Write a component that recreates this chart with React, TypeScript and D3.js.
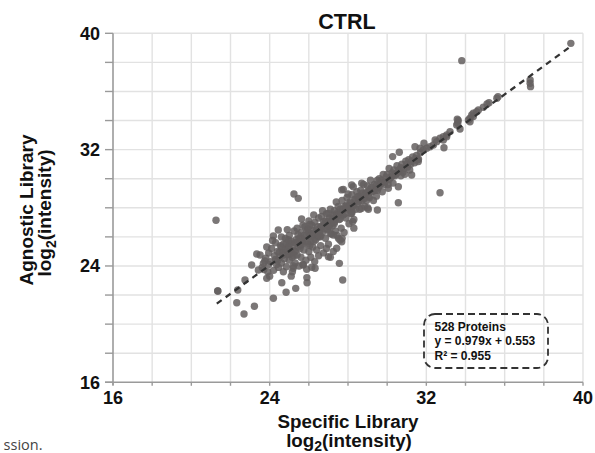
import React from "react";
import * as d3 from "d3";

// ---- data (log2 intensities) ----
const titleText = "CTRL";
const xTicks = [16, 24, 32, 40];
const yTicks = [16, 24, 32, 40];
const gridSteps = [18, 20, 22, 24, 26, 28, 30, 32, 34, 36, 38, 40];
const minorTicks = [16, 18, 20, 22, 24, 26, 28, 30, 32, 34, 36, 38, 40];
const fitSlope = 0.979;
const fitIntercept = 0.553;
const fitRange = [21.3, 39.34];
const legendLines = ["528 Proteins", "y = 0.979x + 0.553", "R\u00b2 = 0.955"];

const outlierPoints: [number, number][] = [
  [21.26, 27.14], [21.35, 22.28], [21.35, 22.28], [22.32, 21.47], [22.69, 20.7], [23.22, 21.23],
  [22.37, 22.35], [22.74, 23.04], [23.08, 24.07], [23.42, 23.72], [23.51, 24.75], [23.34, 24.82],
  [23.8, 24.53], [23.68, 24.18], [23.85, 23.15], [24.19, 21.78], [24.62, 22.85], [24.84, 22.19],
  [25.33, 22.46], [25.91, 22.85], [25.16, 23.6], [25.2, 23.84], [25.72, 24.07], [25.89, 23.77],
  [26.15, 23.91], [26.32, 23.84], [27.0, 24.64], [27.56, 24.18], [27.73, 23.04], [27.42, 25.22],
  [27.68, 25.67], [27.51, 25.9], [27.25, 26.13], [27.08, 26.25], [27.59, 25.79], [24.44, 26.47],
  [24.19, 26.06], [25.24, 28.95], [25.46, 28.65], [25.63, 27.23], [27.76, 29.27], [27.68, 29.23],
  [28.19, 29.57], [28.27, 29.45], [28.7, 29.69], [28.7, 27.97], [29.04, 27.9], [28.19, 27.62],
  [28.24, 27.05], [27.0, 27.62], [30.06, 29.34], [29.72, 29.69], [30.57, 29.45], [30.57, 28.35],
  [31.25, 30.26], [30.31, 30.26], [32.7, 29.04], [30.28, 31.52], [30.62, 31.82], [31.42, 32.2],
  [31.68, 32.09], [32.9, 32.13], [33.72, 33.42], [33.58, 34.09], [33.81, 38.12], [39.38, 39.31],
  [37.3, 36.79], [37.3, 36.56], [37.32, 36.33], [29.5, 27.85], [31.59, 31.18], [31.88, 32.44],
];

const upperPoints: [number, number][] = [
  [31.85, 31.98], [32.02, 32.09], [32.19, 32.2], [32.36, 32.32], [32.53, 32.55], [32.45, 32.66],
  [32.7, 32.78], [32.87, 32.89], [33.04, 33.01], [33.21, 33.24], [32.87, 32.66], [33.04, 32.89],
  [33.55, 33.7], [33.6, 33.81], [33.63, 34.0], [34.15, 34.04], [34.23, 34.16], [34.23, 33.92],
  [34.32, 34.38], [34.4, 34.5], [34.4, 34.27], [34.57, 34.61], [34.66, 34.73], [34.91, 34.91],
  [35.1, 35.14], [35.2, 35.23], [35.6, 35.53], [35.66, 35.64],
];

const bandPoints: [number, number][] = [
  [23.62, 23.9], [23.75, 24.35], [23.9, 23.6], [23.95, 24.9], [24.05, 24.3], [24.1, 25.2],
  [24.2, 23.7], [24.25, 24.7], [24.3, 25.6], [24.35, 24.1], [24.4, 25.0], [24.45, 23.9],
  [24.5, 24.6], [24.55, 25.4], [23.85, 25.3], [24.15, 25.75], [24.6, 26.0], [24.0, 23.3],
  [24.6, 24.2], [24.65, 24.95], [24.7, 25.5], [24.75, 24.5], [24.8, 25.9], [24.85, 23.95],
  [24.9, 24.8], [24.95, 25.3], [25.0, 26.1], [25.0, 24.4], [25.05, 25.0], [25.1, 25.7],
  [25.1, 23.3], [25.15, 24.6], [25.2, 25.4], [25.25, 26.4], [25.3, 24.2], [25.3, 25.0],
  [25.35, 25.8], [25.4, 24.75], [25.4, 26.6], [25.45, 25.3], [25.5, 24.0], [25.5, 25.9],
  [24.7, 23.6], [24.9, 26.5], [25.2, 24.0], [24.8, 25.15], [25.05, 25.55],
  [25.55, 25.2], [25.6, 26.3], [25.6, 24.6], [25.65, 25.7], [25.7, 26.8], [25.75, 25.1],
  [25.8, 25.95], [25.85, 24.4], [25.9, 26.4], [25.95, 25.5], [26.0, 27.1], [26.0, 25.0],
  [26.05, 26.2], [26.1, 24.6], [26.1, 25.7], [26.15, 26.8], [26.2, 25.3], [26.25, 26.1],
  [26.3, 24.3], [26.3, 27.0], [26.35, 25.8], [26.4, 26.5], [26.4, 25.1], [26.45, 26.0],
  [26.5, 24.7], [26.5, 27.3], [25.7, 24.1], [25.9, 23.2], [25.8, 26.7], [26.05, 25.4],
  [26.25, 27.5], [25.6, 25.45], [26.35, 26.25],
  [26.55, 26.0], [26.6, 26.7], [26.6, 25.4], [26.65, 27.4], [26.7, 26.3], [26.75, 24.9],
  [26.8, 26.9], [26.85, 25.9], [26.9, 27.6], [26.95, 26.5], [27.0, 25.5], [27.0, 27.1],
  [27.05, 26.7], [27.1, 27.9], [27.15, 26.2], [27.2, 27.3], [27.25, 25.0], [27.3, 26.9],
  [27.3, 27.8], [27.35, 26.4], [27.4, 27.5], [27.45, 26.1], [27.5, 28.1], [26.7, 27.8],
  [26.9, 25.2], [27.1, 24.6], [26.6, 26.05], [27.2, 26.75], [27.4, 28.4],
  [27.55, 27.2], [27.6, 27.9], [27.65, 26.6], [27.7, 28.5], [27.75, 27.5], [27.8, 26.3],
  [27.85, 28.1], [27.9, 27.3], [27.95, 28.7], [28.0, 27.9], [28.05, 26.9], [28.1, 28.4],
  [28.15, 27.6], [28.2, 28.9], [28.25, 28.1], [28.3, 27.2], [28.35, 28.6], [28.4, 27.9],
  [28.45, 29.1], [28.5, 28.3], [27.7, 25.9], [28.0, 28.95], [28.3, 26.6],
  [28.55, 28.8], [28.6, 27.9], [28.65, 29.2], [28.7, 28.5], [28.8, 29.6], [28.85, 28.1],
  [28.9, 29.0], [28.95, 28.5], [29.0, 29.5], [29.1, 28.7], [29.15, 29.9], [29.2, 29.1],
  [29.3, 28.5], [29.35, 29.6], [29.4, 29.2], [29.45, 28.8], [29.5, 29.9], [29.0, 28.0],
  [29.55, 29.4], [29.6, 30.0], [29.7, 29.7], [29.75, 29.1], [29.8, 30.3], [29.9, 29.8],
  [30.0, 30.3], [30.05, 29.6], [30.1, 30.7], [30.2, 30.1], [30.3, 29.7], [30.35, 30.6],
  [30.45, 30.3], [30.5, 30.9],
  [30.6, 30.6], [30.7, 30.2], [30.75, 31.0], [30.85, 30.7], [30.95, 31.2], [31.05, 30.8],
  [31.1, 31.3], [31.2, 31.0], [31.3, 31.5], [31.4, 31.1], [31.5, 31.6], [31.6, 31.35],
  [31.7, 31.8], [30.9, 30.3], [31.15, 30.6],
];

const corePoints: [number, number][] = [
  [24.3, 24.45], [24.5, 24.95], [24.7, 24.75], [24.9, 25.15], [25.0, 24.8], [25.2, 25.05],
  [25.3, 25.6], [25.45, 25.6], [25.55, 25.5], [25.7, 25.55], [25.75, 26.1], [25.9, 25.7],
  [26.0, 26.3], [26.1, 26.05], [26.2, 26.45], [26.3, 26.3], [26.45, 26.7], [26.55, 26.4],
  [26.65, 26.7], [26.8, 26.55], [26.85, 27.1], [26.95, 26.9], [27.05, 27.3], [27.15, 27.0],
  [27.25, 27.5], [27.35, 27.2], [27.45, 27.65], [27.55, 27.5], [27.65, 27.7], [27.75, 27.9],
  [27.85, 27.6], [27.95, 28.2], [28.05, 27.95], [28.15, 28.3], [28.3, 28.2], [28.4, 28.55],
  [28.55, 28.45], [28.65, 28.75], [28.8, 28.6], [28.95, 29.05], [29.05, 28.8], [29.2, 29.4],
  [29.3, 29.15], [29.45, 29.55], [29.6, 29.5], [29.7, 29.9], [29.85, 29.6], [29.95, 30.1],
  [30.1, 29.95], [30.25, 30.4], [30.4, 30.2], [30.55, 30.45], [30.7, 30.75], [30.8, 30.45],
  [31.0, 31.0], [31.25, 31.2], [31.45, 31.4], [31.55, 31.3], [24.6, 25.3], [24.85, 25.6],
  [25.1, 24.9], [25.25, 24.7], [25.6, 25.9], [25.95, 26.55], [26.25, 25.7], [26.5, 26.15],
  [26.75, 27.05], [27.0, 26.75], [27.3, 27.0], [27.6, 27.25], [27.9, 28.05], [28.2, 27.75],
  [28.5, 28.75], [28.75, 29.0], [29.1, 29.25], [29.5, 29.2], [26.05, 26.85], [25.45, 26.15],
  [24.95, 25.8], [24.4, 24.35], [23.95, 24.1], [23.7, 23.75],
];

const allPoints = [...bandPoints, ...corePoints, ...upperPoints, ...outlierPoints];

const W = 595;
const H = 453;
const FONT = "'Liberation Sans', Arial, Helvetica, sans-serif";

export default function App() {
  const x = d3.scaleLinear().domain([16, 40]).range([113, 583]);
  const y = d3.scaleLinear().domain([16, 40]).range([382.3, 33.3]);
  const fitLine = d3
    .line<number>()
    .x((d) => x(d))
    .y((d) => y(fitSlope * d + fitIntercept));

  const axisColor = "#9a9a9a";
  const gridColor = "#e2e2e2";

  return (
    <svg
      width={W}
      height={H}
      viewBox={`0 0 ${W} ${H}`}
      style={{ position: "absolute", left: 0, top: 0, background: "#fff" }}
      fontFamily={FONT}
    >
      <rect x={0} y={0} width={W} height={H} fill="#fff" />
      {/* grid */}
      {gridSteps.map((v) => (
        <line key={"gx" + v} x1={x(v)} x2={x(v)} y1={y(16)} y2={y(40)} stroke={gridColor} strokeWidth={1.4} />
      ))}
      {gridSteps.map((v) => (
        <line key={"gy" + v} x1={x(16)} x2={x(40)} y1={y(v)} y2={y(v)} stroke={gridColor} strokeWidth={1.4} />
      ))}
      {/* axes */}
      <line x1={x(16)} x2={x(16)} y1={y(40)} y2={y(16) + 3} stroke={axisColor} strokeWidth={1.6} />
      <line x1={x(16) - 8} x2={x(40)} y1={y(16)} y2={y(16)} stroke={axisColor} strokeWidth={1.6} />
      {minorTicks.map((v) => (
        <line key={"ty" + v} x1={x(16) - 8} x2={x(16)} y1={y(v)} y2={y(v)} stroke={axisColor} strokeWidth={1.4} />
      ))}
      {minorTicks.map((v) => (
        <line key={"tx" + v} x1={x(v)} x2={x(v)} y1={y(16)} y2={y(16) + 3.5} stroke={axisColor} strokeWidth={1.4} />
      ))}
      {/* tick labels */}
      {yTicks.map((v) => (
        <text key={"ly" + v} x={x(16) - 13} y={y(v)} dy="0.36em" textAnchor="end" fontSize={18} fontWeight="bold" fill="#111">
          {v}
        </text>
      ))}
      {xTicks.map((v) => (
        <text key={"lx" + v} x={x(v)} y={y(16) + 22} textAnchor="middle" fontSize={18} fontWeight="bold" fill="#111">
          {v}
        </text>
      ))}
      {/* points */}
      <g fill="rgb(100,95,95)" fillOpacity={0.85}>
        {allPoints.map((p, i) => (
          <circle key={i} cx={x(p[0])} cy={y(p[1])} r={3.7} />
        ))}
      </g>
      {/* regression */}
      <path d={fitLine(fitRange) || ""} fill="none" stroke="#333" strokeWidth={2.3} strokeDasharray="6,5" />
      {/* legend box */}
      <rect x={424} y={314} width={124} height={54} rx={11} ry={11} fill="none" stroke="#333" strokeWidth={1.8} strokeDasharray="7,4" />
      {legendLines.map((t, i) => (
        <text key={t} x={434.5} y={330.5 + i * 14.8} fontSize={12} fontWeight="bold" fill="#111">
          {t}
        </text>
      ))}
      {/* title */}
      <text x={347} y={29.3} textAnchor="middle" fontSize={21.5} fontWeight="bold" fill="#111">
        {titleText}
      </text>
      {/* x title */}
      <text x={348} y={427.5} textAnchor="middle" fontSize={18.8} fontWeight="bold" fill="#111">
        Specific Library
      </text>
      <text x={349} y={446.5} textAnchor="middle" fontSize={18.8} fontWeight="bold" fill="#111">
        log<tspan fontSize={14} dy={4.5}>2</tspan>
        <tspan dy={-4.5}>(intensity)</tspan>
      </text>
      {/* y title */}
      <g transform="translate(32.5,210) rotate(-90)">
        <text x={0} y={0} textAnchor="middle" fontSize={19} fontWeight="bold" fill="#111">
          Agnostic Library
        </text>
        <text x={-3} y={18.5} textAnchor="middle" fontSize={19} fontWeight="bold" fill="#111">
          log<tspan fontSize={14} dy={4.5}>2</tspan>
          <tspan dy={-4.5}>(intensity)</tspan>
        </text>
      </g>
      {/* caption fragment */}
      <text x={42.5} y={450} textAnchor="end" fontSize={14.5} fontFamily="'Open Sans', sans-serif" fill="#444">
        ssion.
      </text>
    </svg>
  );
}
